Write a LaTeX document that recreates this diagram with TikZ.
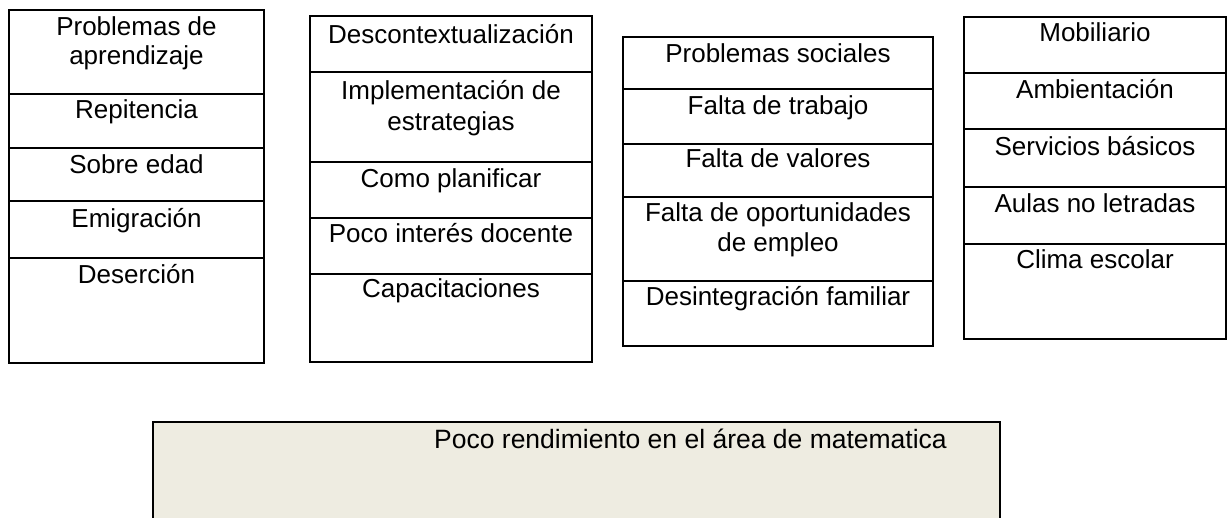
\documentclass[tikz,border=0pt]{standalone}
\usepackage{fontspec}
\setmainfont{Liberation Sans}
\definecolor{bgbeige}{HTML}{EEECE1}
\begin{document}
\begin{tikzpicture}[x=1pt,y=-1pt,
  cellbox/.style={draw=black,line width=2pt,inner sep=0pt,outer sep=0pt,anchor=north west},
  celltext/.style={inner sep=0pt,anchor=base,font=\fontsize{26pt}{30pt}\selectfont,text=black},
  mainbox/.style={draw=black,line width=2pt,fill=bgbeige,inner sep=0pt,outer sep=0pt,anchor=north west}]
\clip (0,0) rectangle (1228,518);
\fill[white] (0,0) rectangle (1228,518);
% Column A
\node[cellbox,minimum width=255pt,minimum height=84pt] (a1) at (9,10) {};
\node[cellbox,minimum width=255pt,minimum height=54pt] (a2) at (9,94) {};
\node[cellbox,minimum width=255pt,minimum height=53pt] (a3) at (9,148) {};
\node[cellbox,minimum width=255pt,minimum height=57pt] (a4) at (9,201) {};
\node[cellbox,minimum width=255pt,minimum height=105pt] (a5) at (9,258) {};
\node[celltext] (ta1) at (136.5,36) {Problemas de};
\node[celltext] (ta1b) at (136.5,65) {aprendizaje};
\node[celltext] (ta2) at (136.5,119) {Repitencia};
\node[celltext] (ta3) at (136.5,174) {Sobre edad};
\node[celltext] (ta4) at (136.5,228) {Emigración};
\node[celltext] (ta5) at (136.5,284) {Deserción};
% Column B
\node[cellbox,minimum width=282pt,minimum height=56pt] (b1) at (310,16) {};
\node[cellbox,minimum width=282pt,minimum height=90pt] (b2) at (310,72) {};
\node[cellbox,minimum width=282pt,minimum height=56pt] (b3) at (310,162) {};
\node[cellbox,minimum width=282pt,minimum height=56pt] (b4) at (310,218) {};
\node[cellbox,minimum width=282pt,minimum height=88pt] (b5) at (310,274) {};
\node[celltext] (tb1) at (451,44) {Descontextualización};
\node[celltext] (tb2) at (451,100) {Implementación de};
\node[celltext] (tb2b) at (451,131) {estrategias};
\node[celltext] (tb3) at (451,188) {Como planificar};
\node[celltext] (tb4) at (451,243) {Poco interés docente};
\node[celltext] (tb5) at (451,298) {Capacitaciones};
% Column C
\node[cellbox,minimum width=310pt,minimum height=52pt] (c1) at (623,37) {};
\node[cellbox,minimum width=310pt,minimum height=55pt] (c2) at (623,89) {};
\node[cellbox,minimum width=310pt,minimum height=53pt] (c3) at (623,144) {};
\node[cellbox,minimum width=310pt,minimum height=84pt] (c4) at (623,197) {};
\node[cellbox,minimum width=310pt,minimum height=65pt] (c5) at (623,281) {};
\node[celltext] (tc1) at (778,63) {Problemas sociales};
\node[celltext] (tc2) at (778,115) {Falta de trabajo};
\node[celltext] (tc3) at (778,168) {Falta de valores};
\node[celltext] (tc4) at (778,222) {Falta de oportunidades};
\node[celltext] (tc4b) at (778,252) {de empleo};
\node[celltext] (tc5) at (778,306) {Desintegración familiar};
% Column D
\node[cellbox,minimum width=262pt,minimum height=56pt] (d1) at (964,17) {};
\node[cellbox,minimum width=262pt,minimum height=56pt] (d2) at (964,73) {};
\node[cellbox,minimum width=262pt,minimum height=58pt] (d3) at (964,129) {};
\node[cellbox,minimum width=262pt,minimum height=57pt] (d4) at (964,187) {};
\node[cellbox,minimum width=262pt,minimum height=95pt] (d5) at (964,244) {};
\node[celltext] (td1) at (1095,42) {Mobiliario};
\node[celltext] (td2) at (1095,99) {Ambientación};
\node[celltext] (td3) at (1095,156) {Servicios básicos};
\node[celltext] (td4) at (1095,213) {Aulas no letradas};
\node[celltext] (td5) at (1095,269) {Clima escolar};
% Bottom box
\node[mainbox,minimum width=847pt,minimum height=130pt] (main) at (153,422) {};
\node[celltext,anchor=base west,font=\fontsize{26.5pt}{30pt}\selectfont] (tmain) at (434,448) {Poco rendimiento en el área de matematica};
\end{tikzpicture}
\end{document}
